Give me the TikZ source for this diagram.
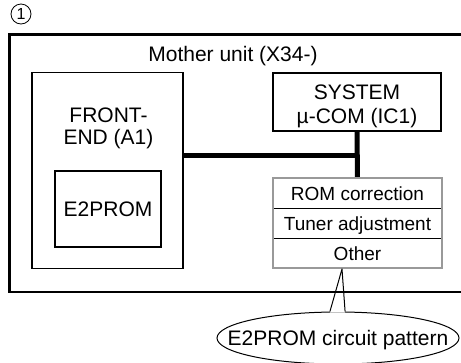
\documentclass[tikz,border=0pt]{standalone}
\usepackage{fontspec}
\setmainfont{Liberation Sans}
\usetikzlibrary{shapes.geometric}

\begin{document}
\begin{tikzpicture}[x=1pt,y=-1pt]

    % Área total da figura
    \useasboundingbox (0,0) rectangle (461,362);

    % Tamanhos de fonte (normal e da tabela)
    \def\fsz{\fontsize{21}{22.5}\selectfont}
    \def\fsm{\fontsize{19}{22}\selectfont}

    % Estilos dos elementos
    \tikzstyle{moldura} = [draw, line width=2.8pt];
    \tikzstyle{bloco} = [draw, rectangle, inner sep=0pt];
    \tikzstyle{texto} = [align=center, inner sep=0pt, font=\fsz];
    \tikzstyle{linha} = [
      rectangle, inner sep=0pt, font=\fsm,
      minimum width=169pt, minimum height=30pt,
      text height=14pt, text depth=0pt
    ];
    \tikzstyle{barra} = [line width=5pt];
    \tikzstyle{balao} = [
      draw, ellipse, line width=1pt, inner sep=0pt,
      minimum width=242pt, minimum height=52pt
    ];

    % Número da figura dentro de um círculo
    \node[draw, circle, line width=0.8pt, minimum size=20pt, inner sep=0pt,
      font=\fontsize{16}{16}\selectfont] (num) at (21,14) {1};

    % Moldura da unidade principal
    \draw[moldura] (470,34.5) -| (9.5,292) -- (470,292);
    \node[texto] (mae) at (233,56.5) {Mother unit (X34-)};

    % Bloco do front-end com a E2PROM dentro
    \node[bloco, line width=1.4pt, minimum width=151pt, minimum height=196pt] (fe) at (107.5,170.5) {};
    \node[texto] (fetxt) at (108.5,128.5) {FRONT-\\END (A1)};
    \node[bloco, line width=1.1pt, minimum width=106pt, minimum height=76pt, font=\fsz] (eep) at (108,209) {E2PROM};

    % Microcontrolador do sistema
    \node[bloco, line width=1.6pt, minimum width=168pt, minimum height=58pt] (sys) at (357,102) {};
    \node[texto] (systxt) at (357,106) {SYSTEM\\[1.5pt]µ-COM (IC1)};

    % Tabela com o conteúdo da E2PROM
    \node[linha] (rom) at (357.5,193) {ROM correction};
    \node[linha] (tun) at (357.5,223) {Tuner adjustment};
    \node[linha] (oth) at (357.5,253) {Other};

    % Barramento entre os blocos
    \coordinate (jct) at (357,155);
    \draw[barra] (fe.east |- jct) -- (jct);
    \draw[barra] (sys.south) -- (rom.north);

    % Divisões e borda da tabela
    \draw[line width=0.9pt] (rom.south west) -- (rom.south east);
    \draw[line width=0.9pt] (tun.south west) -- (tun.south east);
    \draw[draw=black!40, line width=1.8pt] (rom.north west) rectangle (oth.south east);

    % Balão indicando o padrão do circuito
    \node[balao] (pat) at (338,338) {};
    \node[texto] (pattxt) at (338,340) {E2PROM circuit pattern};
    \coordinate (tip) at (342,269);
    \draw[white, line width=2pt] (pat.107) -- (pat.75);
    \draw[line width=1pt, line join=round] (pat.107) -- (tip) -- (pat.75);

\end{tikzpicture}
\end{document}
